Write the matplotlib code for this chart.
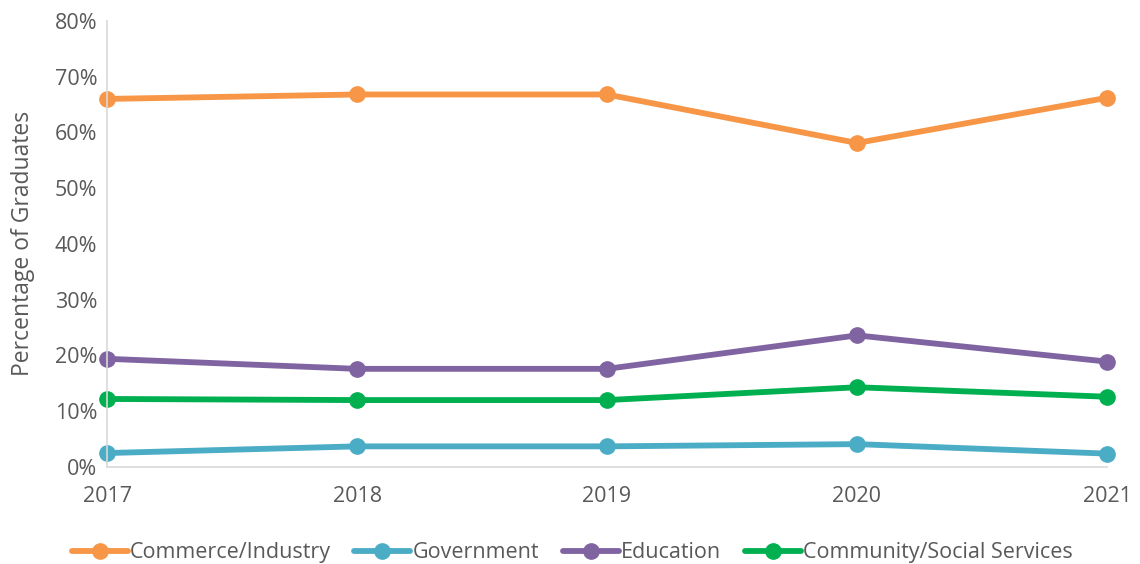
import matplotlib.pyplot as plt
from matplotlib.ticker import PercentFormatter

years = ["2017", "2018", "2019", "2020", "2021"]
commerce = [66.0, 66.8, 66.8, 58.1, 66.2]
government = [2.5, 3.7, 3.7, 4.1, 2.4]
education = [19.4, 17.6, 17.6, 23.6, 18.9]
community = [12.2, 12.0, 12.0, 14.3, 12.6]

series = [
    ("Commerce/Industry", commerce, "#F79646"),
    ("Government", government, "#4BACC6"),
    ("Education", education, "#8064A2"),
    ("Community/Social Services", community, "#00B050"),
]

text_color = "#595959"
plt.rcParams["font.family"] = ["Open Sans", "DejaVu Sans"]

fig = plt.figure(figsize=(11.4, 5.64), dpi=100)
ax = fig.add_axes([0.094, 0.172, 0.877, 0.791])

x = range(len(years))
for name, vals, col in series:
    ax.plot(x, vals, color=col, lw=4.2, marker="o", ms=11,
            solid_capstyle="round", label=name, clip_on=False)

ax.set_xlim(0, len(years) - 1)
ax.set_ylim(0, 80)
ax.set_yticks(range(0, 81, 10))
ax.yaxis.set_major_formatter(PercentFormatter(decimals=0))
ax.set_xticks(list(x))
ax.set_xticklabels(years)

for s in ["top", "right"]:
    ax.spines[s].set_visible(False)
for s in ["left", "bottom"]:
    ax.spines[s].set_color("#D9D9D9")
    ax.spines[s].set_linewidth(1.2)
ax.tick_params(length=0, labelsize=15.5, colors=text_color)
ax.tick_params(axis="x", pad=14)
ax.tick_params(axis="y", pad=7)

ax.set_ylabel("Percentage of Graduates", fontsize=16.5, color=text_color, labelpad=14)

ax.legend(loc="center", bbox_to_anchor=(0.465, -0.192), ncol=4,
          frameon=False, fontsize=15.5, labelcolor=text_color,
          handlelength=2.6, handletextpad=0.1, columnspacing=1.1)

fig.savefig("out.png", dpi=100)
